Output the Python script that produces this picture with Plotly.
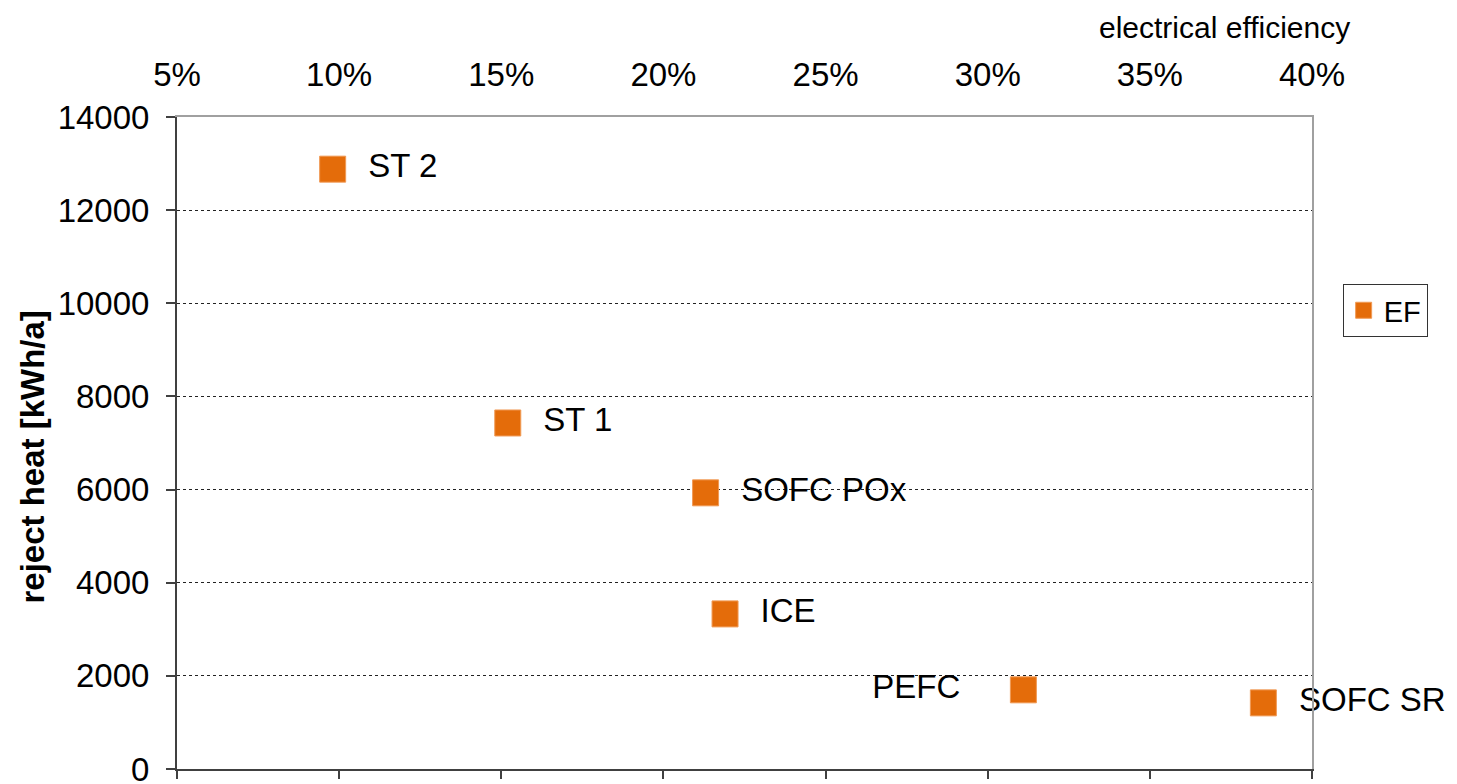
import plotly.graph_objects as go

# electrical efficiency [%] vs reject heat [kWh/a]
systems = ["ST 2", "ST 1", "SOFC POx", "ICE", "PEFC", "SOFC SR"]
efficiency = [9.8, 15.2, 21.3, 21.9, 31.1, 38.5]
reject_heat = [12880, 7430, 5930, 3330, 1700, 1420]
label_pos = ["middle right", "middle right", "middle right", "middle right", "middle left", "middle right"]

x_ticks = [5, 10, 15, 20, 25, 30, 35, 40]
x_tick_labels = ["5%", "10%", "15%", "20%", "25%", "30%", "35%", "40%"]

FONT = "Liberation Sans, Arial, sans-serif"
ORANGE = "#E46C0A"

labels = ["  " + s if p.endswith("right") else s + "     " for s, p in zip(systems, label_pos)]

fig = go.Figure()

fig.add_trace(go.Scatter(
    x=efficiency,
    y=reject_heat,
    mode="markers+text",
    name="EF",
    text=labels,
    textposition=label_pos,
    textfont=dict(size=33, color="black", family=FONT),
    cliponaxis=False,
    marker=dict(symbol="square", size=26, color=ORANGE,
                line=dict(color="#F09A55", width=1)),
))

# same points on the overlay axes so the top/right frame gets drawn
fig.add_trace(go.Scatter(
    x=efficiency, y=reject_heat, xaxis="x2", yaxis="y2",
    mode="markers", marker=dict(opacity=0),
    showlegend=False, hoverinfo="skip",
))

# page body has an 8px margin, so the figure is 8px smaller
fig.update_layout(
    width=1449,
    height=776,
    margin=dict(l=169, r=145, t=109, b=15),
    paper_bgcolor="white",
    plot_bgcolor="white",
    font=dict(family=FONT, size=33, color="black"),
    showlegend=True,
    legend=dict(
        x=1.027, y=0.744, xanchor="left", yanchor="top",
        bordercolor="#333333", borderwidth=1,
        font=dict(size=29, color="black"),
        itemwidth=30,
    ),
    xaxis=dict(
        range=[5, 40], tickvals=x_ticks, showticklabels=False,
        ticks="outside", ticklen=8, tickwidth=2, tickcolor="#404040",
        showline=True, linecolor="#404040", linewidth=2,
        showgrid=False, zeroline=False, automargin=False,
    ),
    xaxis2=dict(
        overlaying="x", side="top", range=[5, 40],
        tickvals=x_ticks, ticktext=x_tick_labels, ticks="",
        tickfont=dict(size=33), ticklabelstandoff=16,
        showline=True, linecolor="#A0A0A0", linewidth=2,
        showgrid=False, zeroline=False, automargin=False,
    ),
    yaxis=dict(
        range=[0, 14000], dtick=2000, tickformat="d",
        ticks="outside", ticklen=9, tickwidth=2, tickcolor="#404040",
        showline=True, linecolor="#404040", linewidth=2,
        showgrid=True, gridcolor="#222222", griddash="dot", gridwidth=1,
        zeroline=False, automargin=False, ticklabeloverflow="allow",
        tickfont=dict(size=33), ticklabelstandoff=10,
    ),
    yaxis2=dict(
        overlaying="y", side="right", range=[0, 14000],
        showticklabels=False, ticks="",
        showline=True, linecolor="#A0A0A0", linewidth=2,
        showgrid=False, zeroline=False, automargin=False,
    ),
)

fig.add_annotation(
    text="electrical efficiency", xref="paper", yref="paper",
    x=1.035, y=1.165, xanchor="right", yanchor="top",
    showarrow=False, font=dict(size=30, color="black"),
)

fig.add_annotation(
    text="<b>reject heat [kWh/a]</b>", xref="paper", yref="paper",
    x=-0.127, y=0.479, xanchor="center", yanchor="middle", textangle=-90,
    showarrow=False, font=dict(size=33, color="black"),
)

fig.write_html("out.html")
